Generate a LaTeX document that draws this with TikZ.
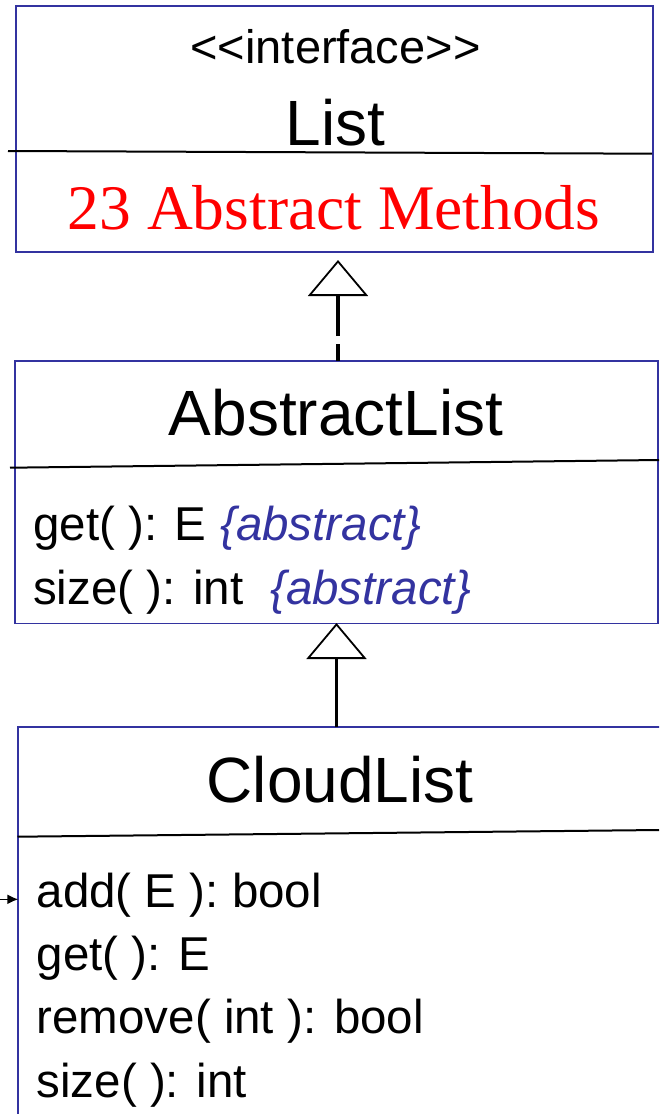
\documentclass[tikz,border=0pt]{standalone}
\usepackage{fontspec}
\setmainfont{Liberation Sans}
\newfontfamily\serifface{Liberation Serif}
\usetikzlibrary{arrows.meta}
\definecolor{umlblue}{RGB}{51,51,160}
\begin{document}
\begin{tikzpicture}[x=1pt,y=-1pt,
  umlbox/.style={draw=umlblue, line width=1.9pt, rectangle, inner sep=0pt, outer sep=0pt, anchor=north west},
  divider/.style={draw=black, line width=2pt},
  title/.style={font=\fontsize{64}{64}\selectfont, anchor=base, inner sep=0pt},
  member/.style={font=\fontsize{47.5}{47.5}\selectfont, anchor=base west, inner sep=0pt},
  tag/.style={font=\fontsize{47.5}{47.5}\selectfont\itshape, text=umlblue, anchor=base west, inner sep=0pt},
  hollowtip/.style={-{Triangle[open, length=36pt, width=60pt, line width=1.8pt]}},
  realize/.style={line width=3.5pt, dash pattern=on 17pt off 8pt on 80pt, hollowtip},
  extends/.style={line width=3.5pt, hollowtip},
  feedarrow/.style={line width=1.5pt, -{Latex[length=11pt, width=10pt]}},
]
\useasboundingbox (0,0) rectangle (659,1114);
\clip (0,0) rectangle (659,1114);

% class boxes
\node[umlbox, minimum width=637.6pt, minimum height=246.3pt] (list) at (15.7,5.7) {};
\node[umlbox, minimum width=643.3pt, minimum height=262.5pt] (abs) at (15,361) {};
\node[umlbox, minimum width=700pt, minimum height=450pt] (cloud) at (18.3,727.3) {};

% compartment dividers
\draw[divider] (8,151) -- (652,153.7);
\draw[divider] (10,467.7) -- (659,460);
\draw[divider] (17.5,836.7) -- (659,830);

% interface List
\node[title, font=\fontsize{47}{47}\selectfont] (stereo) at (335.5,63.5) {<\kern0pt<interface>\kern0pt>};
\node[title] (listname) at (335.5,145) {List};
\node[title, font=\serifface\fontsize{63.5}{63.5}\selectfont, text=red] (count) at (334,229) {23 Abstract Methods};

% AbstractList
\node[title] (absname) at (336,435) {AbstractList};
\node[member] (aget) at (33,540) {get( ): E};
\node[tag] (agettag) at (220,540) {\{abstract\}};
\node[member] (asize) at (33,604) {size( ): int};
\node[tag] (asizetag) at (270,604) {\{abstract\}};

% CloudList
\node[title] (cloudname) at (340,802) {CloudList};
\node[member] (cadd) at (36.5,907) {add( E ): bool};
\node[member] (cget) at (36.5,970) {get( ): E};
\node[member] (cremove) at (36.5,1033) {remove( int ): bool};
\node[member] (csize) at (36.5,1097) {size( ): int};

% relations
\coordinate (tip1) at (338,260);
\draw[realize] (abs.north -| tip1) -- (tip1);
\coordinate (tip2) at (336.5,623);
\draw[extends] (cloud.north -| tip2) -- (tip2);

\coordinate (feed) at (-1,899.3);
\draw[feedarrow] (feed) -- (cloud.west |- feed);
\end{tikzpicture}
\end{document}
